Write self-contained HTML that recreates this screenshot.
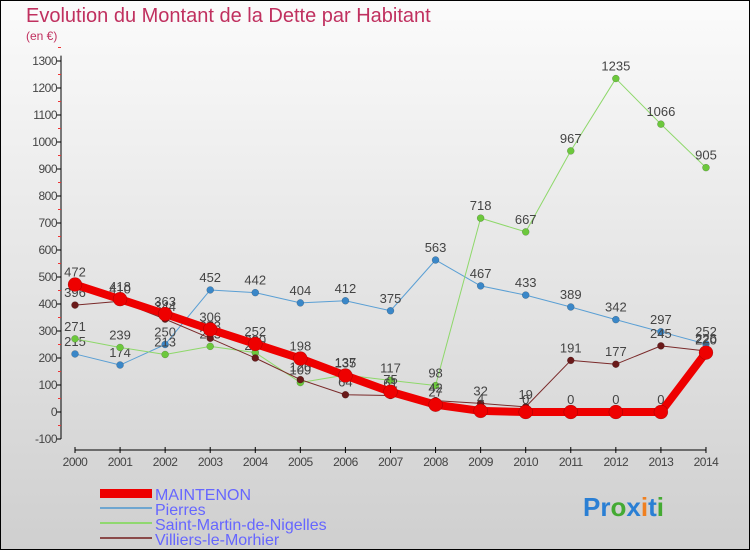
<!DOCTYPE html>
<html><head><meta charset="utf-8"><style>
html,body{margin:0;padding:0}
body{width:750px;height:550px;overflow:hidden;font-family:"Liberation Sans",sans-serif}
svg text{font-family:"Liberation Sans",sans-serif}
</style></head><body>
<svg id="chart" width="750" height="550" xmlns="http://www.w3.org/2000/svg">
<defs><linearGradient id="bg" x1="0" y1="0" x2="0" y2="1"><stop offset="0" stop-color="#fbfbfb"/><stop offset="1" stop-color="#cfcfcf"/></linearGradient></defs>
<rect x="0.5" y="0.5" width="749" height="549" fill="url(#bg)" stroke="#000"/>
<text x="26" y="22" font-size="20" fill="#c0305f">Evolution du Montant de la Dette par Habitant</text>
<text x="26" y="40" font-size="12" fill="#c0305f">(en €)</text>
<g id="axes"></g>
<g id="series"></g>
<g id="legend">
<rect x="100" y="489" width="52" height="9" fill="#e00"/>
<text x="155" y="500" font-size="16" fill="#6666ff">MAINTENON</text>
<rect x="100" y="507" width="52" height="2" fill="#6fa6d0"/>
<text x="155" y="515" font-size="16" fill="#6666ff">Pierres</text>
<rect x="100" y="522" width="52" height="2" fill="#90d870"/>
<text x="155" y="530" font-size="16" fill="#6666ff">Saint-Martin-de-Nigelles</text>
<rect x="100" y="537" width="52" height="2" fill="#8a4a4a"/>
<text x="155" y="545" font-size="16" fill="#6666ff">Villiers-le-Morhier</text>
</g>
<text x="583" y="516" font-size="26" font-weight="bold"><tspan fill="#2a7fd4">Pr</tspan><tspan fill="#44aa33">o</tspan><tspan fill="#2a7fd4">x</tspan><tspan fill="#f08020">i</tspan><tspan fill="#2a7fd4">t</tspan><tspan fill="#44aa33">i</tspan></text>
</svg>
<script>
const years = [2000,2001,2002,2003,2004,2005,2006,2007,2008,2009,2010,2011,2012,2013,2014];
const maintenon = [472,418,363,306,252,198,135,75,27,4,0,0,0,0,220];
const pierres = [215,174,250,452,442,404,412,375,563,467,433,389,342,297,252];
const saintMartin = [271,239,213,243,220,109,137,117,98,718,667,967,1235,1066,905];
const villiers = [396,410,344,273,200,120,64,61,42,32,19,191,177,245,226];
const yTicks = [-100,0,100,200,300,400,500,600,700,800,900,1000,1100,1200,1300];

const NS='http://www.w3.org/2000/svg';
const xS = i => 75 + i*45.07;
const yS = v => 412 - v*0.27;
function mk(tag, attrs, parent){const e=document.createElementNS(NS,tag);for(const k in attrs)e.setAttribute(k,attrs[k]);parent.appendChild(e);return e;}
const axes=document.getElementById('axes');
const yAxis = mk('line',{x1:61,y1:yS(1320),x2:61,y2:yS(-100),stroke:'#000'},axes);


yTicks.forEach(t=>{
  mk('line',{x1:57,x2:61,y1:yS(t),y2:yS(t),stroke:'#000'},axes);
  mk('line',{x1:58,x2:61,y1:yS(t+50),y2:yS(t+50),stroke:'#e33'},axes);
  const tx=mk('text',{x:57,y:yS(t)+4,'font-size':12,'text-anchor':'end',fill:'#444','letter-spacing':'-0.5'},axes);
  tx.textContent=t;
  
  
});
const xAxis = mk('line',{x1:xS(0),y1:450,x2:xS(14),y2:450,stroke:'#000'},axes);


years.forEach((y,i)=>{
  mk('line',{x1:xS(i),x2:xS(i),y1:447,y2:453,stroke:'#000'},axes);
  const tx=mk('text',{x:xS(i),y:466,'font-size':12,'text-anchor':'middle',fill:'#444','letter-spacing':'-0.5'},axes);
  tx.textContent=y;
  
  
});
const ser=document.getElementById('series');
function draw(name,data,color,dot,w,r){
  const g=mk('g',{},ser);
  
  
  const pl=mk('polyline',{points:data.map((v,i)=>xS(i)+','+yS(v)).join(' '),fill:'none',stroke:color,'stroke-width':w,'stroke-linejoin':'round'},g);
  
  
  data.forEach((v,i)=>{
    const c=mk('circle',{cx:xS(i),cy:yS(v),r:r,fill:dot,stroke:'rgba(0,0,0,0.3)','stroke-width':0.5},g);
    
    
    const t=mk('text',{x:xS(i),y:yS(v)-8,'font-size':13,'text-anchor':'middle',fill:'#444'},g);
    t.textContent=v;
    
    
  });
}
draw('pierres',pierres,'#5a9fd4','#3a87c8',1,3.5);
draw('saint-martin',saintMartin,'#8ed86a','#6cc83c',1,3.5);
draw('villiers',villiers,'#7a2a2a','#6a1a1a',1,3.5);
draw('maintenon',maintenon,'#ee0000','#ee0000',8,7);
</script>
</body></html>
